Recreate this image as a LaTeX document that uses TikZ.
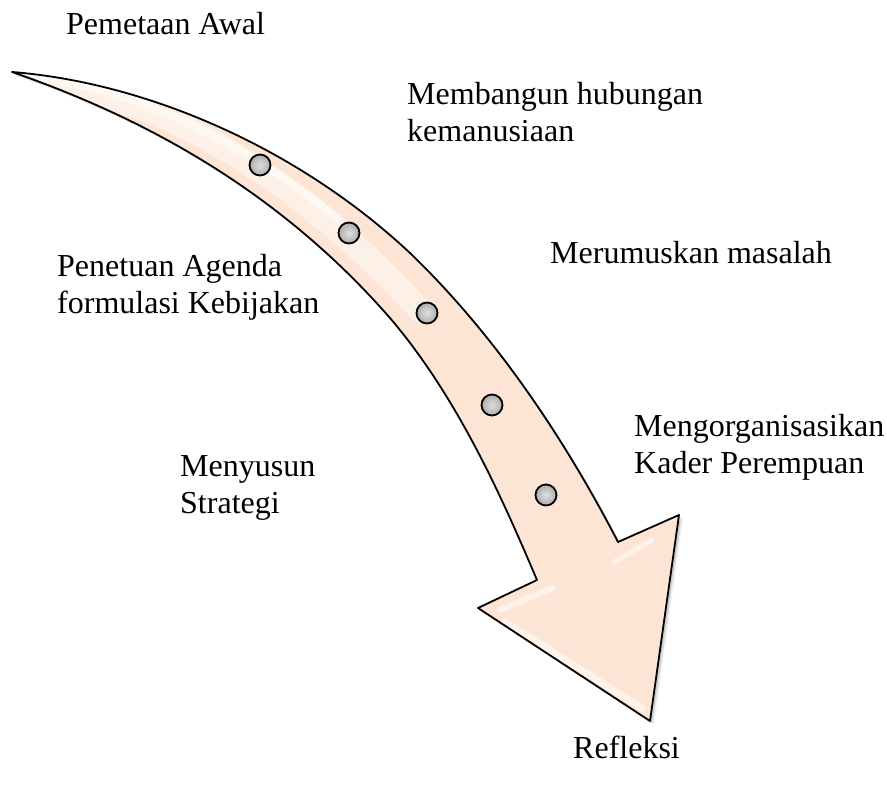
\documentclass[tikz,border=0pt]{standalone}
\usepackage{fontspec}
\setmainfont{Liberation Serif}
\usetikzlibrary{shadings}
\definecolor{peach}{RGB}{252,229,212}
\definecolor{peachlight}{RGB}{254,244,236}
\tikzset{
  lbl/.style={anchor=base west, inner sep=0pt, align=left,
    font=\fontsize{32}{37}\selectfont, text=black},
  dot/.style={circle, draw=black, line width=1.8pt, minimum size=21pt,
    inner sep=0pt, inner color=gray!25, outer color=gray!65},
  arrowline/.style={draw=black, line width=1.8pt, line join=round},
  gloss/.style={white, line cap=round, opacity=0.55}
}
% outline of the curved arrow (y grows downward)
\def\bentarrow{
  (12,72) .. controls (150,83) and (300,150) .. (410,253)
          .. controls (490,330) and (560,430) .. (618,542)
  -- (679,515) -- (650,721) -- (478,608) -- (537,580)
  .. controls (505,505) and (460,400) .. (390,318)
  .. controls (300,215) and (180,130) .. (12,72) -- cycle}
\begin{document}
\begin{tikzpicture}[x=1pt, y=-1pt]
  \useasboundingbox (0,0) rectangle (887,791);
  \fill[white] (0,0) rectangle (887,791);

  % soft shadow
  \foreach \d/\o in {4/0.05, 3/0.07, 2/0.09} {
    \fill[black, opacity=\o, shift={(\d,\d)}] \bentarrow;
  }
  % body
  \fill[peach] \bentarrow;
  % glossy highlights
  \begin{scope}
    \clip \bentarrow;
    \draw[peachlight, line width=24pt, line cap=round, opacity=0.8]
      (20,76) .. controls (150,95) and (280,160) .. (420,310);
    \draw[gloss, line width=8pt, opacity=0.5]
      (30,77) .. controls (140,90) and (240,140) .. (340,220);
    \draw[gloss, line width=6pt] (500,610) -- (553,588);
    \draw[gloss, line width=7pt] (505,622) -- (642,708);
    \draw[gloss, line width=5pt] (614,562) -- (652,540);
  \end{scope}
  \draw[arrowline] \bentarrow;

  % milestones along the arrow
  \node[dot] (d1) at (260,165) {};
  \node[dot] (d2) at (349,233) {};
  \node[dot] (d3) at (427,313) {};
  \node[dot] (d4) at (492,405) {};
  \node[dot] (d5) at (546,495) {};

  % stage labels (base = baseline of the last line)
  \node[lbl] (l1) at (66,35) {Pemetaan Awal};
  \node[lbl] (l2) at (407,142) {Membangun hubungan\\kemanusiaan};
  \node[lbl] (l3) at (550,264) {Merumuskan masalah};
  \node[lbl] (l4) at (57,314) {Penetuan Agenda\\formulasi Kebijakan};
  \node[lbl] (l5) at (634,474) {Mengorganisasikan\\Kader Perempuan};
  \node[lbl] (l6) at (180,514) {Menyusun\\Strategi};
  \node[lbl] (l7) at (573,758) {Refleksi};
\end{tikzpicture}
\end{document}
